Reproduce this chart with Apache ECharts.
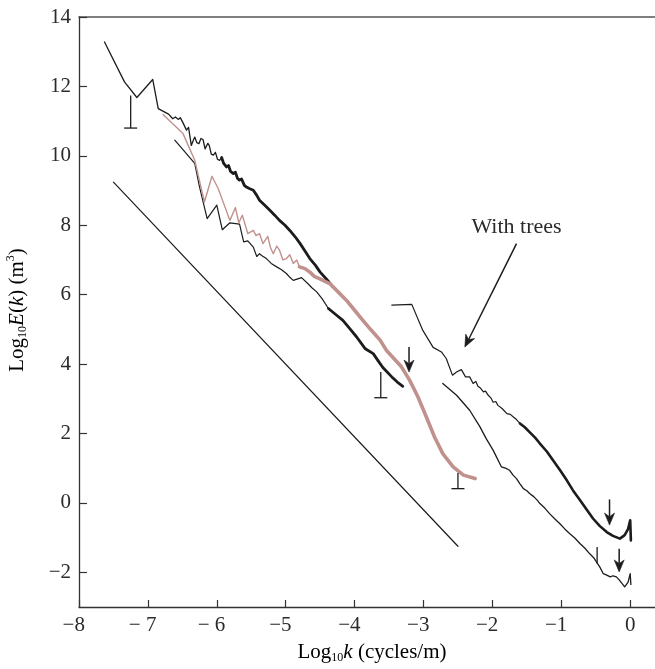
<!DOCTYPE html>
<html>
<head>
<meta charset="utf-8">
<script src="https://cdn.jsdelivr.net/npm/echarts@6/dist/echarts.min.js"></script>
<style>
html,body{margin:0;padding:0;background:#fff;}
#chart{width:655px;height:669px;}
</style>
</head>
<body>
<div id="chart"></div>
<script>
// ---- tick values and labels ----
const xTicks = [-8, -7, -6, -5, -4, -3, -2, -1, 0];
const xTickLabels = ['−8', '− 7', '− 6', '−5', '−4', '−3', '−2', '−1', '0'];
const yTicks = [-2, 0, 2, 4, 6, 8, 10, 12, 14];
const yTickLabels = ['−2', '0', '2', '4', '6', '8', '10', '12', '14'];

// ---- series values [log10 k, log10 E(k)] ----
const curveUpperThin = [[-7.63,13.28],[-7.34,12.13],[-7.16,11.68],[-6.93,12.20],[-6.85,11.36],[-6.70,11.20],[-6.64,11.07],[-6.60,11.12],[-6.56,11.05],[-6.53,11.10],[-6.49,10.95],[-6.44,10.74],[-6.41,10.82],[-6.37,10.30],[-6.34,10.45],[-6.32,10.54],[-6.29,10.38],[-6.26,10.35],[-6.23,10.50],[-6.20,10.47],[-6.17,10.20],[-6.15,10.16],[-6.13,10.36],[-6.11,10.30],[-6.08,10.05],[-6.05,10.02],[-6.02,10.10],[-5.99,9.90],[-5.96,9.87],[-5.93,9.95]];
const curveUpperThick = [[-5.93,9.95],[-5.90,9.78],[-5.86,9.68],[-5.83,9.72],[-5.80,9.55],[-5.76,9.49],[-5.73,9.53],[-5.70,9.35],[-5.67,9.30],[-5.64,9.33],[-5.60,9.15],[-5.57,9.10],[-5.52,9.05],[-5.47,9.01],[-5.42,8.86],[-5.38,8.72],[-5.30,8.57],[-5.23,8.43],[-5.16,8.29],[-5.09,8.14],[-5.01,8.00],[-4.94,7.85],[-4.86,7.66],[-4.79,7.47],[-4.72,7.26],[-4.65,7.04],[-4.57,6.85],[-4.50,6.65],[-4.41,6.45],[-4.32,6.24]];
const curveLowerThin = [[-6.61,10.45],[-6.32,9.78],[-6.25,9.10],[-6.14,8.19],[-6.00,8.58],[-5.92,7.87],[-5.81,8.07],[-5.67,8.03],[-5.61,7.52],[-5.55,7.55],[-5.47,7.37],[-5.42,7.10],[-5.38,7.18],[-5.35,7.13],[-5.28,7.04],[-5.21,6.90],[-5.13,6.80],[-5.06,6.72],[-4.99,6.61],[-4.94,6.50],[-4.89,6.41],[-4.77,6.49],[-4.68,6.32],[-4.62,6.20],[-4.55,6.08],[-4.47,5.88],[-4.38,5.60]];
const curveLowerThick = [[-4.38,5.60],[-4.27,5.42],[-4.17,5.26],[-4.07,5.02],[-3.97,4.78],[-3.85,4.45],[-3.73,4.30],[-3.66,4.10],[-3.59,3.90],[-3.46,3.63],[-3.38,3.48],[-3.30,3.36]];
const pinkThin = [[-6.78,11.19],[-6.49,10.64],[-6.32,9.87],[-6.18,8.67],[-6.07,9.41],[-5.98,9.06],[-5.81,8.14],[-5.73,8.51],[-5.68,8.07],[-5.63,8.29],[-5.55,7.76],[-5.47,7.85],[-5.43,7.70],[-5.38,7.76],[-5.33,7.47],[-5.26,7.68],[-5.22,7.35],[-5.18,7.18],[-5.13,7.40],[-5.09,7.28],[-5.04,7.00],[-4.99,7.04],[-4.94,7.15],[-4.89,6.90],[-4.84,7.00],[-4.80,6.80]];
const pinkThick = [[-4.80,6.80],[-4.72,6.75],[-4.65,6.65],[-4.58,6.52],[-4.51,6.46],[-4.43,6.38],[-4.36,6.32],[-4.24,6.08],[-4.12,5.84],[-4.00,5.55],[-3.88,5.26],[-3.76,4.98],[-3.63,4.69],[-3.54,4.40],[-3.43,4.16],[-3.32,3.92],[-3.20,3.53],[-3.08,3.05],[-2.96,2.48],[-2.84,1.90],[-2.72,1.42],[-2.57,1.04],[-2.42,0.80],[-2.25,0.70]];
const slopeLine = [[-7.50,9.24],[-2.50,-1.25]];
const treesThin = [[-3.46,5.70],[-3.17,5.72],[-3.01,4.97],[-2.86,4.48],[-2.74,4.35],[-2.67,4.16],[-2.58,3.68],[-2.52,3.77],[-2.45,3.84],[-2.39,3.63],[-2.33,3.63],[-2.28,3.44],[-2.24,3.50],[-2.21,3.36],[-2.17,3.30],[-2.13,3.20],[-2.10,3.22],[-2.06,3.10],[-2.02,3.02],[-1.99,2.90],[-1.95,2.92],[-1.92,2.81],[-1.86,2.72],[-1.79,2.57],[-1.74,2.55],[-1.70,2.48],[-1.65,2.40],[-1.60,2.29]];
const treesThick = [[-1.60,2.29],[-1.53,2.18],[-1.46,2.04],[-1.38,1.88],[-1.31,1.71],[-1.21,1.48],[-1.12,1.23],[-1.02,0.95],[-0.92,0.65],[-0.83,0.36],[-0.73,0.08],[-0.63,-0.20],[-0.54,-0.45],[-0.44,-0.67],[-0.34,-0.84],[-0.25,-0.95],[-0.15,-1.03],[-0.08,-0.93],[-0.03,-0.75],[0.00,-0.50],[0.01,-1.08]];
const lowerRight = [[-2.72,3.44],[-2.52,3.10],[-2.33,2.67],[-2.18,2.19],[-2.09,1.85],[-1.99,1.52],[-1.87,1.04],[-1.81,1.00],[-1.75,0.94],[-1.70,0.80],[-1.65,0.70],[-1.60,0.55],[-1.55,0.41],[-1.50,0.35],[-1.46,0.27],[-1.40,0.18],[-1.35,0.08],[-1.31,-0.02],[-1.24,-0.15],[-1.17,-0.31],[-1.10,-0.45],[-1.02,-0.60],[-0.95,-0.75],[-0.88,-0.88],[-0.80,-1.02],[-0.73,-1.17],[-0.66,-1.30],[-0.59,-1.46],[-0.53,-1.58],[-0.49,-1.70],[-0.44,-1.85],[-0.39,-2.04],[-0.34,-2.08],[-0.29,-2.13],[-0.25,-2.10],[-0.20,-2.13],[-0.16,-2.22],[-0.12,-2.32],[-0.08,-2.42],[-0.03,-2.28],[0.00,-2.04],[0.01,-2.35]];

// ---- markers: [x, yTop, yBottom] ----
const errorBars = [[-7.25, 11.74, 10.80], [-3.62, 3.77, 3.03], [-2.50, 0.86, 0.41]];
const downArrows = [[-3.21, 4.49, 3.77], [-0.30, 0.10, -0.64], [-0.16, -1.32, -1.99]];
const plainTicks = [[-0.48, -1.27, -1.75]];
// annotation: [textX, textY, arrowFromX, arrowFromY, arrowToX, arrowToY]
const annotationTexts = ['With trees'];
const annotationPos = [[-1.65, 7.95, -1.65, 7.47, -2.40, 4.49]];

const FONT = '"Liberation Serif", "DejaVu Serif", serif';
const TXT = '#2b2b2b';
const BLACK = '#1c1c1c';
const PINK = '#c0918d';

function lineSeries(data, color, width) {
  return { type: 'line', data: data, showSymbol: false, symbol: 'none', animation: false, silent: true,
    lineStyle: { color: color, width: width, join: 'round', cap: 'round' }, z: 3 };
}

function arrowGroup(p1, p2, len, wid) {
  const dx = p2[0] - p1[0], dy = p2[1] - p1[1];
  const L = Math.sqrt(dx * dx + dy * dy);
  const ux = dx / L, uy = dy / L, nx = -uy, ny = ux;
  const bx = p2[0] - ux * len, by = p2[1] - uy * len;
  const notch = [p2[0] - ux * len * 0.7, p2[1] - uy * len * 0.7];
  return [
    { type: 'line', shape: { x1: p1[0], y1: p1[1], x2: notch[0], y2: notch[1] }, style: { stroke: BLACK, lineWidth: 1.5 } },
    { type: 'polygon', shape: { points: [p2, [bx + nx * wid, by + ny * wid], notch, [bx - nx * wid, by - ny * wid]] }, style: { fill: BLACK, stroke: BLACK, lineWidth: 0.6 } }
  ];
}

function negLabel(lbl) { return lbl.charAt(0) === '−' ? lbl + '\u2002' : lbl; }

const chart = echarts.init(document.getElementById('chart'), null, { renderer: 'canvas' });

const option = {
  animation: false,
  backgroundColor: '#fff',
  grid: { left: 79, right: 0, top: 17, bottom: 62, containLabel: false },
  xAxis: [{
    type: 'value', min: -8, max: 0.36, position: 'bottom',
    axisLine: { show: true, onZero: false, lineStyle: { color: '#333', width: 1.3 } },
    axisTick: { show: true, inside: true, length: 7, customValues: xTicks, lineStyle: { color: '#333', width: 1.2 } },
    axisLabel: { show: true, customValues: xTicks, margin: 8, color: TXT, fontFamily: FONT, fontSize: 21,
      formatter: function (v) { const i = xTicks.findIndex(t => Math.abs(t - v) < 1e-6); return i >= 0 ? negLabel(xTickLabels[i]) : ''; } },
    splitLine: { show: false }
  }, {
    type: 'value', min: -8, max: 0.36, position: 'top',
    axisLine: { show: true, onZero: false, lineStyle: { color: '#555', width: 1.5 } },
    axisTick: { show: false }, axisLabel: { show: false }, splitLine: { show: false }
  }],
  yAxis: {
    type: 'value', min: -3, max: 14,
    axisLine: { show: true, onZero: false, lineStyle: { color: '#333', width: 1.3 } },
    axisTick: { show: true, inside: true, length: 8, customValues: yTicks, lineStyle: { color: '#333', width: 1.2 } },
    axisLabel: { show: true, customValues: yTicks, margin: 8, color: TXT, fontFamily: FONT, fontSize: 21,
      formatter: function (v) { const i = yTicks.findIndex(t => Math.abs(t - v) < 1e-6); return i >= 0 ? yTickLabels[i] : ''; } },
    splitLine: { show: false }
  },
  series: [
    lineSeries(slopeLine, BLACK, 1.2),
    lineSeries(curveUpperThin, BLACK, 1.3),
    lineSeries(curveUpperThick, BLACK, 2.8),
    lineSeries(curveLowerThin, BLACK, 1.2),
    lineSeries(curveLowerThick, BLACK, 2.8),
    lineSeries(pinkThin, PINK, 1.4),
    lineSeries(pinkThick, PINK, 3.6),
    lineSeries(treesThin, BLACK, 1.2),
    lineSeries(treesThick, BLACK, 2.6),
    lineSeries(lowerRight, BLACK, 1.3),
    {
      type: 'custom', animation: false, silent: true, z: 5,
      data: errorBars,
      renderItem: function (params, api) {
        const top = api.coord([api.value(0), api.value(1)]);
        const bot = api.coord([api.value(0), api.value(2)]);
        return { type: 'group', children: [
          { type: 'line', shape: { x1: top[0], y1: top[1], x2: bot[0], y2: bot[1] }, style: { stroke: BLACK, lineWidth: 1.3 } },
          { type: 'line', shape: { x1: bot[0] - 6.5, y1: bot[1], x2: bot[0] + 6.5, y2: bot[1] }, style: { stroke: BLACK, lineWidth: 1.3 } }
        ] };
      }
    },
    {
      type: 'custom', animation: false, silent: true, z: 5,
      data: downArrows,
      renderItem: function (params, api) {
        const p1 = api.coord([api.value(0), api.value(1)]);
        const p2 = api.coord([api.value(0), api.value(2)]);
        return { type: 'group', children: arrowGroup(p1, p2, 12, 5) };
      }
    },
    {
      type: 'custom', animation: false, silent: true, z: 5,
      data: plainTicks,
      renderItem: function (params, api) {
        const p1 = api.coord([api.value(0), api.value(1)]);
        const p2 = api.coord([api.value(0), api.value(2)]);
        return { type: 'line', shape: { x1: p1[0], y1: p1[1], x2: p2[0], y2: p2[1] }, style: { stroke: BLACK, lineWidth: 1.3 } };
      }
    },
    {
      type: 'custom', animation: false, silent: true, z: 5,
      data: annotationPos,
      renderItem: function (params, api) {
        const t = api.coord([api.value(0), api.value(1)]);
        const p1 = api.coord([api.value(2), api.value(3)]);
        const p2 = api.coord([api.value(4), api.value(5)]);
        return { type: 'group', children: arrowGroup(p1, p2, 12, 5).concat([
          { type: 'text', x: t[0], y: t[1], style: { text: annotationTexts[params.dataIndex], fill: TXT, font: '22px ' + FONT, align: 'center', verticalAlign: 'middle' } }
        ]) };
      }
    }
  ],
  graphic: [
    {
      type: 'text', x: 372, y: 652,
      style: {
        text: '{n|Log}{s|10}{i|k}{n| (cycles/m)}',
        align: 'center', verticalAlign: 'middle',
        rich: {
          n: { fontFamily: FONT, fontSize: 21, color: TXT, lineHeight: 24 },
          i: { fontFamily: FONT, fontSize: 21, fontStyle: 'italic', color: TXT, lineHeight: 24 },
          s: { fontFamily: FONT, fontSize: 12, color: TXT, lineHeight: 10, verticalAlign: 'bottom' }
        }
      }
    },
    {
      type: 'text', x: 17, y: 310, rotation: Math.PI / 2,
      style: {
        text: '{n|Log}{s|10}{i|E}{n|(}{i|k}{n|) (m}{u|3}{n|)}',
        align: 'center', verticalAlign: 'middle',
        rich: {
          n: { fontFamily: FONT, fontSize: 21, color: TXT, lineHeight: 24 },
          i: { fontFamily: FONT, fontSize: 21, fontStyle: 'italic', color: TXT, lineHeight: 24 },
          s: { fontFamily: FONT, fontSize: 12, color: TXT, lineHeight: 10, verticalAlign: 'bottom' },
          u: { fontFamily: FONT, fontSize: 12, color: TXT, lineHeight: 10, verticalAlign: 'top' }
        }
      }
    }
  ]
};
chart.setOption(option);
</script>
</body>
</html>
